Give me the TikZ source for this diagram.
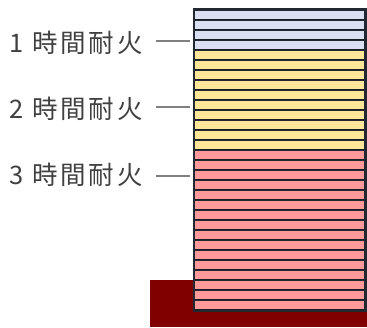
\documentclass[tikz,border=0pt]{standalone}
\usepackage{fontspec}
\setmainfont{Noto Sans CJK JP}
\definecolor{frame}{HTML}{222831}
\definecolor{fblue}{HTML}{DAE0F2}
\definecolor{fyellow}{HTML}{FFE699}
\definecolor{fred}{HTML}{FF999A}
\definecolor{ground}{HTML}{800000}
\definecolor{txt}{HTML}{404040}
\definecolor{lead}{HTML}{808080}
\tikzset{
  lbl/.style={anchor=east, inner sep=0pt, text=txt, font=\fontsize{25.5}{28}\selectfont\addfontfeatures{LetterSpace=11}},
  leader/.style={draw=lead, line width=1.2pt},
  floorshade/.style={fill=black, opacity=0.3}
}
\begin{document}
\begin{tikzpicture}[x=1pt,y=-1pt]
\useasboundingbox (0,0) rectangle (367,327);
% ground
\fill[ground] (150,280) rectangle (367,327);
% building frame
\fill[frame] (192.5,8) rectangle (366.5,312);
\foreach \i in {0,...,29}{
  \pgfmathsetmacro{\ytop}{11+10*\i}
  \ifnum\i<4 \def\fc{fblue}\else\ifnum\i<14 \def\fc{fyellow}\else\def\fc{fred}\fi\fi
  \fill[\fc] (195,\ytop) rectangle (364,\ytop+7.6);
  \fill[floorshade] (195,\ytop+7.6) rectangle (364,\ytop+8.3);
}
% labels
\node[lbl] (l1) at (143,43) {1 時間耐火};
\node[lbl] (l2) at (143,108.5) {2 時間耐火};
\node[lbl] (l3) at (143,175) {3 時間耐火};
\coordinate (c1) at (190,41);
\coordinate (c2) at (190,107);
\coordinate (c3) at (190,176);
\draw[leader] (l1.east |- c1) ++(13,0) -- (c1);
\draw[leader] (l2.east |- c2) ++(13,0) -- (c2);
\draw[leader] (l3.east |- c3) ++(13,0) -- (c3);
\end{tikzpicture}
\end{document}
